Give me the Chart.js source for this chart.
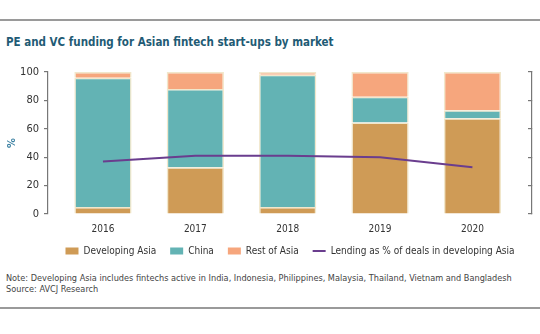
<!DOCTYPE html>
<html lang="en">
<head>
<meta charset="UTF-8">
<title>PE and VC funding for Asian fintech start-ups by market</title>
<script src="https://cdn.jsdelivr.net/npm/chart.js"></script>
<style>
  body { margin: 0; width: 540px; height: 334px; background: #fff; position: relative; overflow: hidden;
         font-family: "DejaVu Sans Condensed", "DejaVu Sans", sans-serif; }
  .rule { position: absolute; left: 0; width: 540px; height: 2px; background: #9a9a9a; }
  h1 { position: absolute; left: 6px; top: 35px; margin: 0; font-size: 11.5px; font-weight: bold; color: #1f5b75; }
  .wrap { position: absolute; left: 0; top: 60px; width: 540px; height: 206px; }
  .note { position: absolute; left: 6px; top: 273px; margin: 0; font-size: 9.1px; line-height: 11px; color: #444; white-space: nowrap; }
</style>
</head>
<body>
<div class="rule" style="top:19px"></div>
<h1>PE and VC funding for Asian fintech start-ups by market</h1>
<div class="wrap"><canvas id="chart"></canvas></div>
<p class="note">Note: Developing Asia includes fintechs active in India, Indonesia, Philippines, Malaysia, Thailand, Vietnam and Bangladesh<br>Source: AVCJ Research</p>
<div class="rule" style="top:307px"></div>

<script>
const years = ['2016', '2017', '2018', '2019', '2020'];
const developingAsia = [5, 33, 5, 64.5, 67.5];
const china = [91, 55, 93, 18, 5.5];
const restOfAsia = [4, 12, 2, 17.5, 27];
const lendingShare = [37, 41, 41, 40, 33];

const pts = arr => arr.map((v, i) => ({ x: i, y: v }));
const sepColor = '#f1e7cb';
const fam = '"DejaVu Sans Condensed", "DejaVu Sans", sans-serif';

const ctx = document.getElementById('chart').getContext('2d');
new Chart(ctx, {
  type: 'bar',
  data: {
    datasets: [
      { label: 'Developing Asia', data: pts(developingAsia), backgroundColor: '#cf9b56', borderColor: sepColor, borderWidth: 1.5, stack: 'bars', order: 1 },
      { label: 'China', data: pts(china), backgroundColor: '#63b3b4', borderColor: sepColor, borderWidth: 1.5, stack: 'bars', order: 1 },
      { label: 'Rest of Asia', data: pts(restOfAsia), backgroundColor: '#f6a67d', borderColor: sepColor, borderWidth: 1.5, stack: 'bars', order: 1 },
      { type: 'line', label: 'Lending as % of deals in developing Asia', data: pts(lendingShare), borderColor: '#6a3d8e',
        backgroundColor: '#6a3d8e', borderWidth: 2, pointRadius: 0, tension: 0, stack: 'line', order: 0 }
    ]
  },
  options: {
    responsive: true,
    maintainAspectRatio: false,
    animation: false,
    layout: { padding: { top: 12, left: 0, right: 0, bottom: 0 } },
    datasets: { bar: { barPercentage: 0.62, categoryPercentage: 1 } },
    plugins: {
      tooltip: { enabled: false },
      legend: {
        position: 'bottom',
        fullSize: false,
        weight: 1000,
        labels: {
          usePointStyle: true, pointStyleWidth: 13, boxHeight: 7, padding: 14,
          color: '#333', font: { family: fam, size: 10 },
          sort: (a, b) => a.datasetIndex - b.datasetIndex,
          generateLabels: chart => chart.data.datasets.map((ds, i) => ({
            text: ds.label, datasetIndex: i, hidden: false, fontColor: '#333',
            fillStyle: ds.backgroundColor, strokeStyle: ds.type === 'line' ? ds.borderColor : ds.backgroundColor,
            lineWidth: ds.type === 'line' ? 2 : 0, pointStyle: ds.type === 'line' ? 'line' : 'rect'
          }))
        }
      }
    },
    scales: {
      x: {
        type: 'linear', min: -0.595, max: 4.645, stacked: true, offset: false, weight: 0,
        afterFit: s => { s.height = 18; },
        grid: { display: false, drawTicks: false }, border: { display: false },
        ticks: { stepSize: 1, includeBounds: false, padding: 9, color: '#333',
          font: { family: fam, size: 10 },
          callback: v => years[v] !== undefined ? years[v] : '' }
      },
      y: {
        position: 'left', min: 0, max: 100, stacked: true,
        afterFit: s => { s.width = 48; },
        grid: { drawOnChartArea: false, tickLength: 4, color: '#777', lineWidth: 1.2 },
        border: { color: '#777', width: 1.2 },
        ticks: { stepSize: 20, padding: 5, color: '#333', font: { family: fam, size: 11 } },
        title: { display: true, text: '%', color: '#3b80a2', padding: { top: 6, bottom: 0 },
          font: { family: fam, size: 11, weight: 'bold' } }
      },
      y2: {
        position: 'right', min: 0, max: 100,
        afterFit: s => { s.width = 8; },
        grid: { drawOnChartArea: false, tickLength: -4, color: '#777', lineWidth: 1.2 },
        border: { color: '#777', width: 1.2 },
        ticks: { stepSize: 20, display: false }
      }
    }
  }
});
</script>
</body>
</html>
